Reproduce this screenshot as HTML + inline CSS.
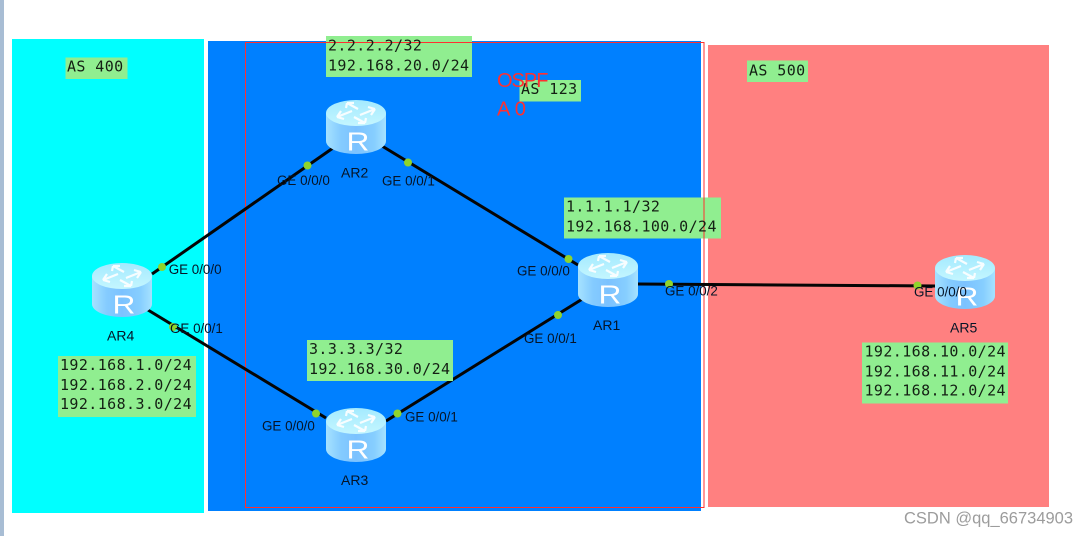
<!DOCTYPE html>
<html>
<head>
<meta charset="utf-8">
<style>
html,body{margin:0;padding:0;background:#fff;width:1089px;height:536px;overflow:hidden}
svg{display:block;filter:blur(.35px)}
.m{font-family:"DejaVu Sans Mono","Liberation Mono",monospace;font-size:15px;letter-spacing:.4px;fill:#142014}
.g{font-family:"Liberation Sans",sans-serif;font-size:13.4px;fill:#061426}
.n{font-family:"Liberation Sans",sans-serif;font-size:14px;fill:#061426}
.r{font-family:"Liberation Sans",sans-serif;font-size:20px;fill:#ff3030}
.w{font-family:"Liberation Sans",sans-serif;font-size:16.5px;fill:#9c9c9c}
.b{fill:#90ee90}
.d{fill:#8fd42c}
.l{stroke:#050505;stroke-width:3;fill:none}
</style>
</head>
<body>
<svg width="1089" height="536" viewBox="0 0 1089 536" xmlns="http://www.w3.org/2000/svg">
<defs>
<linearGradient id="body" x1="0" x2="1" y1="0" y2="0">
<stop offset="0" stop-color="#a6e2ff"/>
<stop offset=".25" stop-color="#84cbff"/>
<stop offset=".5" stop-color="#7cc2ff"/>
<stop offset=".8" stop-color="#86ceff"/>
<stop offset="1" stop-color="#a6e2ff"/>
</linearGradient>
<linearGradient id="top" x1="0" x2="0" y1="0" y2="1">
<stop offset="0" stop-color="#a4eaff"/>
<stop offset="1" stop-color="#c4f6ff"/>
</linearGradient>
<g id="router">
<path d="M0 13 V41 A30 13 0 0 0 60 41 V13 Z" fill="url(#body)"/>
<ellipse cx="30" cy="13" rx="30" ry="13" fill="url(#top)"/>
<g stroke="#fff" stroke-width="2.200" fill="none" opacity=".9">
<path d="M11 17 L26 11 M11 17 L15 11 M11 17 L18 19"/>
<path d="M49 9 L34 15 M49 9 L45 15 M49 9 L42 7"/>
<path d="M21 3 L32 9 M21 3 L20 8 M21 3 L28 3"/>
<path d="M39 23 L28 17 M39 23 L40 18 M39 23 L32 23"/>
</g>
<text x="0" y="50.700" font-family="Liberation Sans, sans-serif" font-size="26" fill="#fff" transform="translate(20.500 0) scale(1.22 1)">R</text>
</g>
</defs>

<rect x="0" y="0" width="4" height="536" fill="#a8bdd4"/>
<rect x="12" y="39" width="192" height="474" fill="#00ffff"/>
<rect x="208" y="41" width="493" height="470" fill="#0080ff"/>
<rect x="708" y="45" width="341" height="462" fill="#ff8080"/>
<rect x="245.500" y="42.500" width="458.500" height="465" fill="none" stroke="#ff3030" stroke-width="1"/>

<line class="l" x1="152" y1="274" x2="333" y2="148"/>
<line class="l" x1="382" y1="146" x2="578" y2="265"/>
<line class="l" x1="148" y1="310" x2="326" y2="418"/>
<line class="l" x1="386" y1="421" x2="584" y2="298"/>
<line class="l" x1="638" y1="284" x2="935" y2="286"/>

<use href="#router" x="326" y="100"/>
<use href="#router" x="92" y="263"/>
<use href="#router" x="326" y="408"/>
<use href="#router" x="578" y="253"/>
<use href="#router" x="935" y="255"/>

<rect class="b" x="65.500" y="57.500" width="62" height="21.500"/>
<rect class="b" x="747" y="60.500" width="61" height="21.500"/>
<rect class="b" x="519.500" y="80" width="61.500" height="21.500"/>
<rect class="b" x="326" y="36" width="146" height="41"/>
<rect class="b" x="564" y="197.500" width="157" height="41"/>
<rect class="b" x="307" y="340" width="146" height="41"/>
<rect class="b" x="58" y="356" width="138" height="61"/>
<rect class="b" x="862" y="342.500" width="146" height="61"/>

<line x1="326" y1="42.500" x2="472" y2="42.500" stroke="#ff3030" stroke-width="1"/>
<line x1="704" y1="197.500" x2="704" y2="238.500" stroke="#ff3030" stroke-width="1"/>

<text class="m" x="67" y="71.700">AS 400</text>
<text class="m" x="749" y="75.500">AS 500</text>
<text class="m" x="521" y="94">AS 123</text>
<text class="m" x="328" y="50.700">2.2.2.2/32</text>
<text class="m" x="328" y="70.700">192.168.20.0/24</text>
<text class="m" x="566" y="211.700">1.1.1.1/32</text>
<text class="m" x="566" y="231.700">192.168.100.0/24</text>
<text class="m" x="309" y="354">3.3.3.3/32</text>
<text class="m" x="309" y="374">192.168.30.0/24</text>
<text class="m" x="60" y="370">192.168.1.0/24</text>
<text class="m" x="60" y="390">192.168.2.0/24</text>
<text class="m" x="60" y="409">192.168.3.0/24</text>
<text class="m" x="864.500" y="356.700">192.168.10.0/24</text>
<text class="m" x="864.500" y="376.700">192.168.11.0/24</text>
<text class="m" x="864.500" y="395.500">192.168.12.0/24</text>

<circle class="d" cx="307.500" cy="165.500" r="4"/>
<circle class="d" cx="408" cy="162.500" r="4"/>
<circle class="d" cx="568.500" cy="259" r="4"/>
<circle class="d" cx="669" cy="284" r="4"/>
<circle class="d" cx="162" cy="267" r="4"/>
<circle class="d" cx="173" cy="327" r="4"/>
<circle class="d" cx="316" cy="413.500" r="4"/>
<circle class="d" cx="397.500" cy="413.500" r="4"/>
<circle class="d" cx="558" cy="315" r="4"/>
<circle class="d" cx="917.500" cy="285.500" r="4"/>

<text class="g" x="277" y="185">GE 0/0/0</text>
<text class="g" x="382" y="185.500">GE 0/0/1</text>
<text class="g" x="517" y="275.500">GE 0/0/0</text>
<text class="g" x="665" y="295.500">GE 0/0/2</text>
<text class="g" x="168.700" y="274">GE 0/0/0</text>
<text class="g" x="170" y="333">GE 0/0/1</text>
<text class="g" x="262" y="430.500">GE 0/0/0</text>
<text class="g" x="405" y="421.500">GE 0/0/1</text>
<text class="g" x="524" y="343">GE 0/0/1</text>
<text class="g" x="914" y="296.500">GE 0/0/0</text>

<text class="n" x="341" y="177.700">AR2</text>
<text class="n" x="107" y="340.700">AR4</text>
<text class="n" x="341" y="485">AR3</text>
<text class="n" x="593" y="330">AR1</text>
<text class="n" x="950" y="332.700">AR5</text>

<text class="r" x="497" y="87" letter-spacing="-1">OSPF</text>
<text class="r" x="497" y="115.500">A 0</text>

<text class="w" x="904" y="523.500">CSDN @qq_66734903</text>
</svg>
</body>
</html>
